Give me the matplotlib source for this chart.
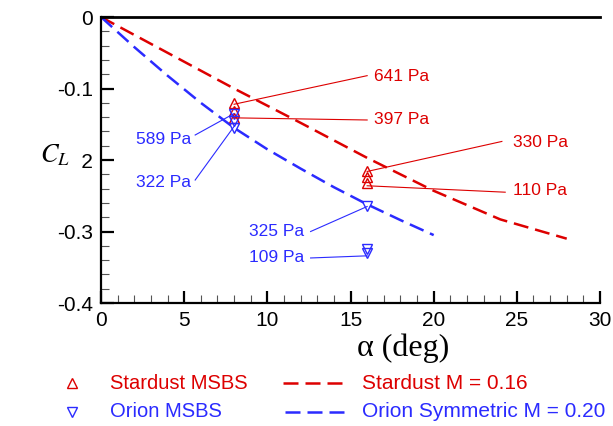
import matplotlib.pyplot as plt
from matplotlib.lines import Line2D
from matplotlib.patches import Rectangle
from matplotlib.ticker import MultipleLocator

# -------------------------------
# Data
# -------------------------------
RED = "#dd0000"
BLUE = "#2b2bff"

# CFD / reference curves
stardust_alpha = [0, 4, 8, 12, 16, 20, 24, 28]
stardust_cl = [0.0, -0.05, -0.1, -0.148, -0.197, -0.243, -0.283, -0.31]

orion_alpha = [0, 2, 4, 6, 8, 10, 12, 14, 16, 18, 20]
orion_cl = [0.0, -0.042, -0.082, -0.12, -0.155, -0.185, -0.212, -0.238, -0.262, -0.284, -0.305]

# MSBS measurements
stardust_msbs_alpha = [8, 8, 8, 16, 16, 16]
stardust_msbs_cl = [-0.12, -0.132, -0.141, -0.216, -0.224, -0.232]

orion_msbs_alpha = [8, 8, 8, 16, 16, 16]
orion_msbs_cl = [-0.135, -0.146, -0.155, -0.265, -0.324, -0.330]

# pressure labels and their leader lines
pressure_labels = ["641 Pa", "397 Pa", "330 Pa", "110 Pa", "589 Pa", "322 Pa", "325 Pa", "109 Pa"]
label_pt_alpha = [8, 8, 16, 16, 8, 8, 16, 16]
label_pt_cl = [-0.122, -0.141, -0.216, -0.236, -0.135, -0.153, -0.265, -0.334]
label_end_alpha = [16.0, 16.0, 24.1, 24.3, 5.66, 5.66, 12.6, 12.6]
label_end_cl = [-0.082, -0.144, -0.174, -0.245, -0.165, -0.228, -0.300, -0.337]
label_txt_alpha = [16.4, 16.4, 24.75, 24.75, 5.4, 5.4, 12.2, 12.2]
label_txt_cl = [-0.083, -0.143, -0.175, -0.243, -0.171, -0.232, -0.300, -0.336]
label_colors = [RED, RED, RED, RED, BLUE, BLUE, BLUE, BLUE]

plt.rcParams['font.family'] = ['Liberation Sans', 'DejaVu Sans']
plt.rcParams['mathtext.fontset'] = 'stix'

fig = plt.figure(figsize=(6.13, 4.26), dpi=100)
ax = fig.add_axes([0.1648, 0.2887, 0.814, 0.6713])

dash = (6, 2.8)
ax.plot(stardust_alpha, stardust_cl, color=RED, lw=1.8, dashes=dash)
ax.plot(orion_alpha, orion_cl, color=BLUE, lw=1.8, dashes=dash)

ax.plot(stardust_msbs_alpha, stardust_msbs_cl, linestyle='none', marker='^',
        ms=7.5, mfc='none', mec=RED, mew=1.0)
ax.plot(orion_msbs_alpha, orion_msbs_cl, linestyle='none', marker='v',
        ms=7.5, mfc='none', mec=BLUE, mew=1.0)

# leader lines + pressure labels
for i, txt in enumerate(pressure_labels):
    c = label_colors[i]
    ax.plot([label_pt_alpha[i], label_end_alpha[i]], [label_pt_cl[i], label_end_cl[i]],
            color=c, lw=0.8)
    ha = 'left' if c == RED else 'right'
    ax.text(label_txt_alpha[i], label_txt_cl[i], txt, color=c, fontsize=12.5,
            ha=ha, va='center')

ax.set_xlim(0, 30)
ax.set_ylim(-0.4, 0)
ax.xaxis.set_major_locator(MultipleLocator(5))
ax.xaxis.set_minor_locator(MultipleLocator(1))
ax.yaxis.set_major_locator(MultipleLocator(0.1))
ax.yaxis.set_minor_locator(MultipleLocator(0.02))
ax.set_yticks([0, -0.1, -0.2, -0.3, -0.4])
ax.set_yticklabels(["0", "-0.1", "-0.2", "-0.3", "-0.4"])

ax.tick_params(which='major', direction='in', length=9, width=1.6, labelsize=15, pad=6)
ax.tick_params(which='minor', direction='in', length=5.5, width=0.8, color='#555555')
ax.tick_params(top=False, right=False, which='both')

ax.spines['right'].set_visible(False)
for s in ['left', 'bottom']:
    ax.spines[s].set_linewidth(1.6)
ax.spines['top'].set_linewidth(2.0)

ax.set_xlabel("\u03b1 (deg)", fontsize=23, family='Liberation Serif')
ax.xaxis.set_label_coords(0.605, -0.105)

# C_L label sits on a white box that hides the front of the -0.2 tick label
fig.add_artist(Rectangle((0.049, 0.596), 0.082, 0.057, transform=fig.transFigure,
                         facecolor='white', edgecolor='none', zorder=2))
fig.text(0.065, 0.636, r"$C_L$", fontsize=19, ha='left', va='center', zorder=3)

# hand-made legend below the axes
fig.add_artist(Line2D([0.1175], [0.1009], marker='^', ms=7, mfc='none', mec=RED,
                      mew=1.0, linestyle='none', transform=fig.transFigure))
fig.add_artist(Line2D([0.1175], [0.0329], marker='v', ms=7, mfc='none', mec=BLUE,
                      mew=1.0, linestyle='none', transform=fig.transFigure))
fig.add_artist(Line2D([0.4617, 0.5595], [0.1009, 0.1009], color=RED, lw=1.8,
                      dashes=dash, transform=fig.transFigure))
fig.add_artist(Line2D([0.4650, 0.5628], [0.0329, 0.0329], color=BLUE, lw=1.8,
                      dashes=dash, transform=fig.transFigure))
fig.text(0.1794, 0.1009, "Stardust MSBS", color=RED, fontsize=14.5, va='center')
fig.text(0.1794, 0.0329, "Orion MSBS", color=BLUE, fontsize=14.5, va='center')
fig.text(0.5905, 0.1009, "Stardust M = 0.16", color=RED, fontsize=15, va='center')
fig.text(0.5905, 0.0329, "Orion Symmetric M = 0.20", color=BLUE, fontsize=15, va='center')

fig.savefig("out.png", dpi=100)
